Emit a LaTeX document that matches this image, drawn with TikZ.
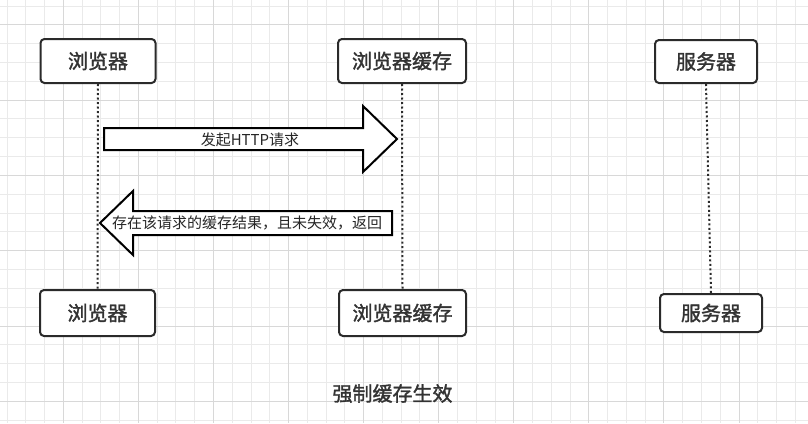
\documentclass[tikz,border=0pt]{standalone}
\usepackage{fontspec}
\newfontfamily\cjk{Noto Sans CJK SC}
\newfontfamily\cjkb{Noto Sans CJK SC}[FakeBold=1.6]
\definecolor{minorgrid}{HTML}{EAEAEA}
\definecolor{majorgrid}{HTML}{D8D8D8}
\definecolor{boxline}{HTML}{2A2A2A}
\definecolor{txt}{HTML}{333333}
\tikzset{
  actor/.style={draw=boxline, line width=2pt, rounded corners=4pt, fill=white,
    text=txt, font=\cjkb\fontsize{20}{24}\selectfont, inner sep=0pt},
  lifeline/.style={draw=boxline, line width=2pt, dash pattern=on 2pt off 2.5pt},
  blockarrow/.style={draw=black, line width=2pt, fill=white, miter limit=10},
  arrowtext/.style={text=black!85, font=\cjk\fontsize{15}{18}\selectfont, inner sep=0pt},
}
\begin{document}
\begin{tikzpicture}[x=1pt,y=-1pt]
\useasboundingbox (0,0) rectangle (808,423);
\fill[white] (0,0) rectangle (808,423);
% grid
\foreach \k in {0,...,42} {
  \pgfmathsetmacro\xx{7+18.77*\k}
  \draw[minorgrid, line width=1pt] (\xx,0) -- (\xx,423);
}
\foreach \k in {0,...,22} {
  \pgfmathsetmacro\yy{6+18.83*\k}
  \draw[minorgrid, line width=1pt] (0,\yy) -- (808,\yy);
}
\foreach \j in {0,...,9} {
  \pgfmathsetmacro\xx{7+18.77*(3+4*\j)}
  \draw[majorgrid, line width=1pt] (\xx,0) -- (\xx,423);
}
\foreach \j in {0,...,5} {
  \pgfmathsetmacro\yy{6+18.83*(1+4*\j)}
  \draw[majorgrid, line width=1pt] (0,\yy) -- (808,\yy);
}
% actors
\node[actor, minimum width=115pt, minimum height=44pt] (b1) at (98,61) {浏览器};
\node[actor, minimum width=128pt, minimum height=44pt] (c1) at (402,61) {浏览器缓存};
\node[actor, minimum width=102pt, minimum height=43pt] (s1) at (706,61.5) {服务器};
\node[actor, minimum width=115pt, minimum height=46pt] (b2) at (97.5,313) {浏览器};
\node[actor, minimum width=127pt, minimum height=46pt] (c2) at (402.5,313) {浏览器缓存};
\node[actor, minimum width=102pt, minimum height=38pt] (s2) at (711,313) {服务器};
% lifelines
\draw[lifeline] (b1.south) -- (b2.north);
\draw[lifeline] (c1.south) -- (c2.north);
\draw[lifeline] (s1.south) -- (s2.north);
% block arrows
\draw[blockarrow] (104,128) -- (363,128) -- (363,106) -- (397,139) -- (363,172) -- (363,150) -- (104,150) -- cycle;
\node[arrowtext] (m1) at (250,139.5) {发起HTTP请求};
\draw[blockarrow] (392,211) -- (133,211) -- (133,191) -- (100,223) -- (133,255) -- (133,235) -- (392,235) -- cycle;
\node[arrowtext] (m2) at (247,223) {存在该请求的缓存结果，且未失效，返回};
% caption
\node[text=txt, font=\cjkb\fontsize{20}{24}\selectfont, inner sep=0pt] (cap) at (392.5,393.5) {强制缓存生效};
\end{tikzpicture}
\end{document}
